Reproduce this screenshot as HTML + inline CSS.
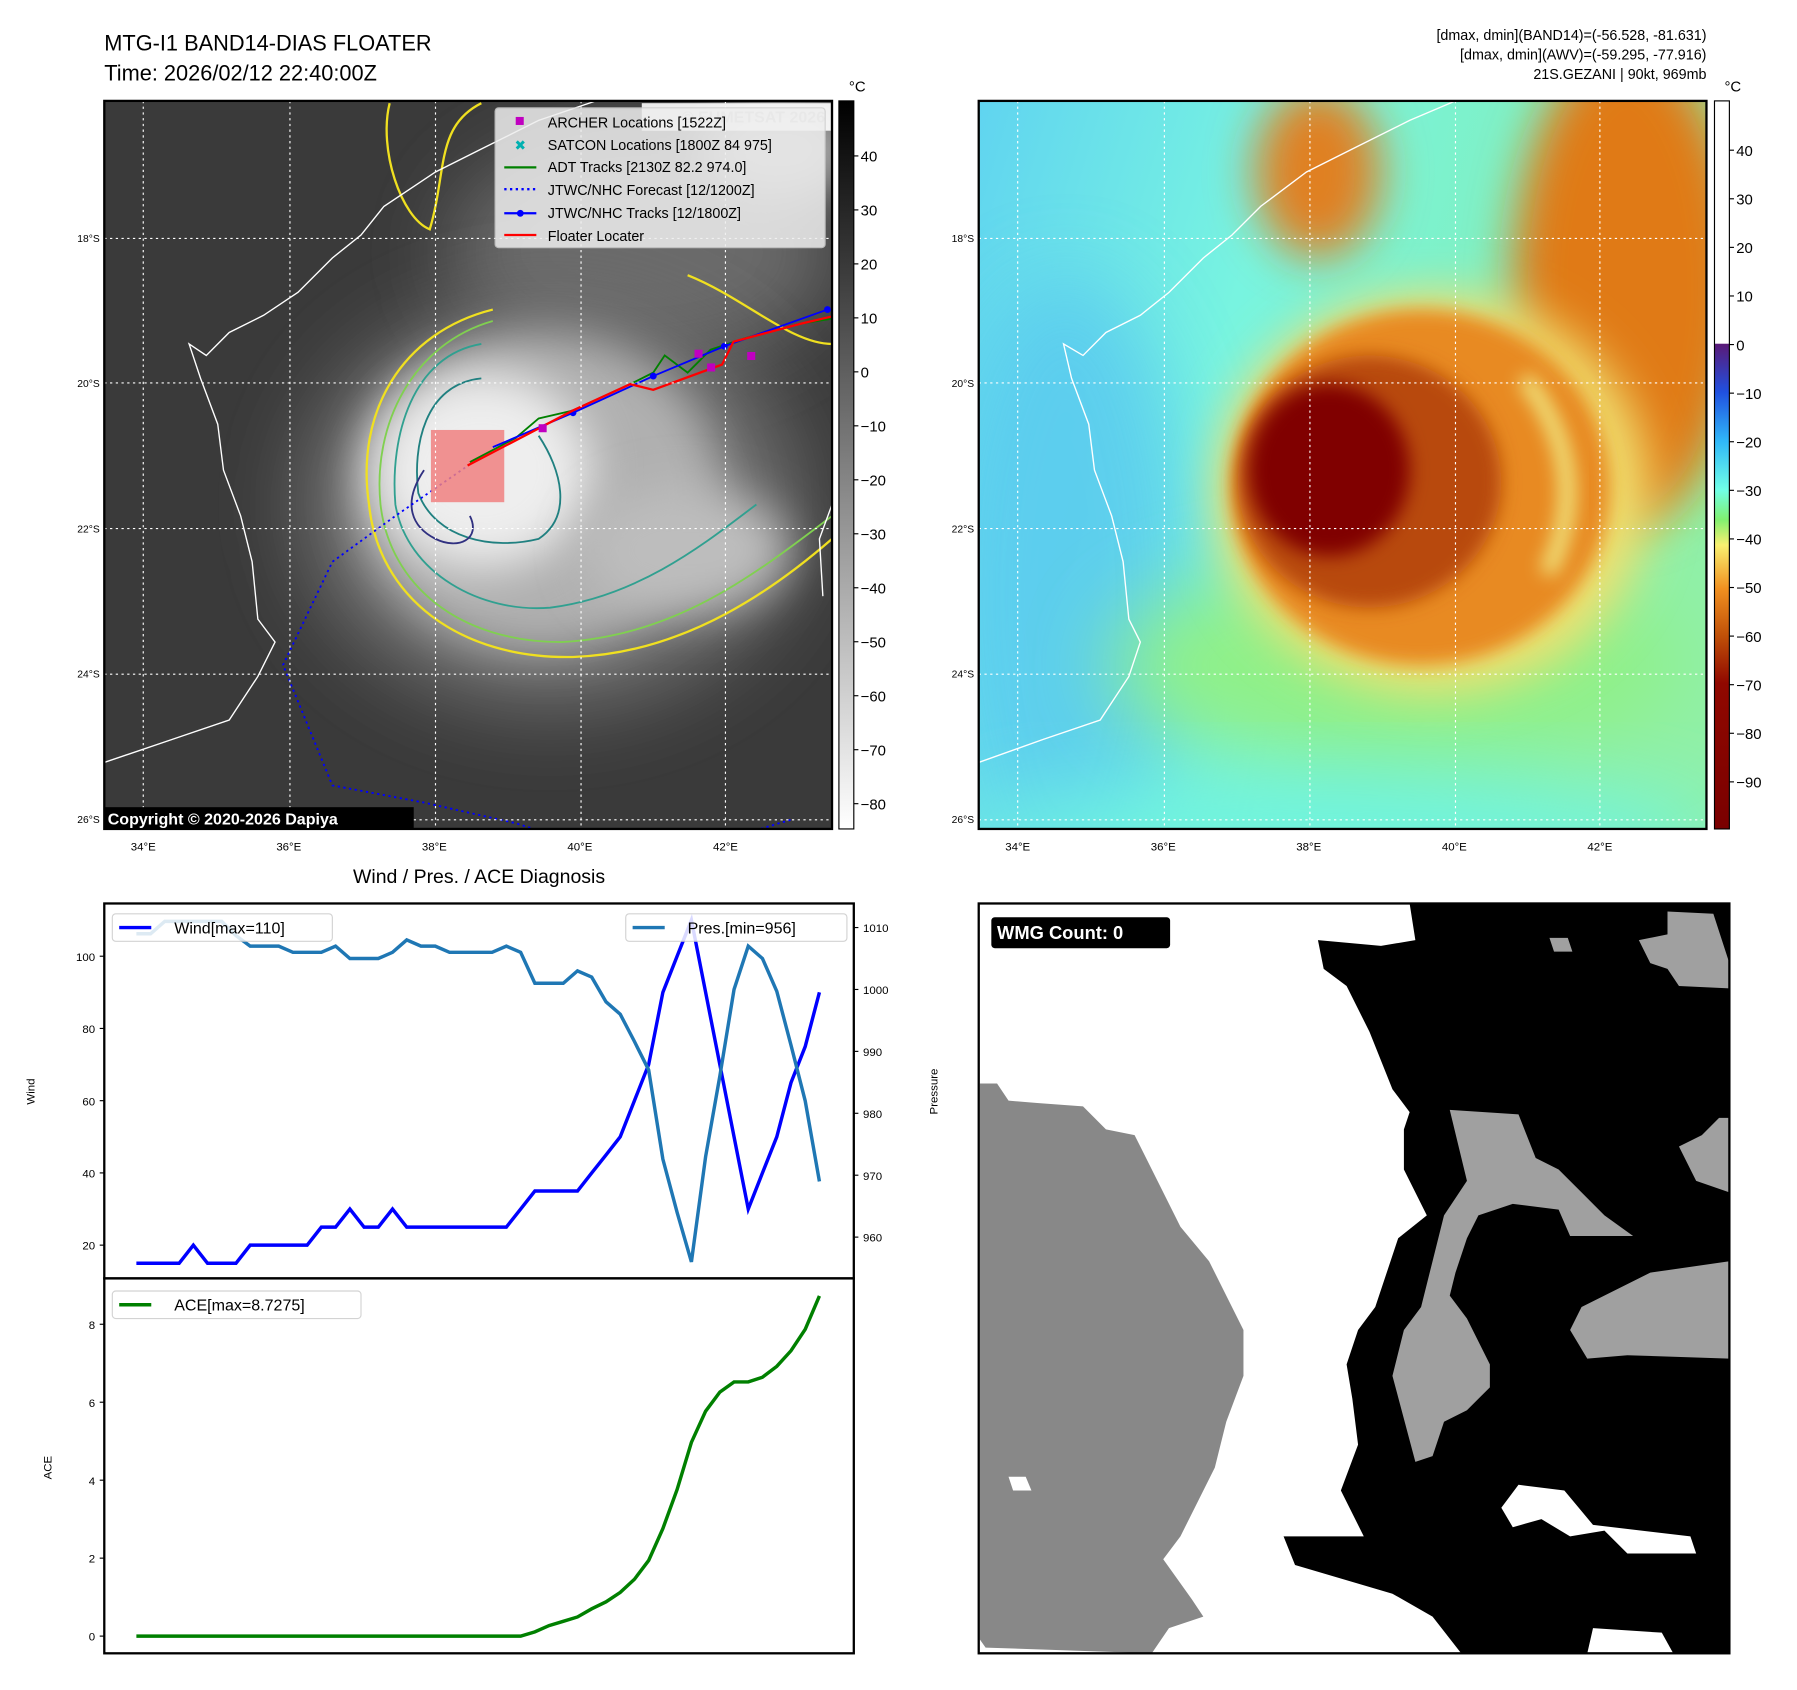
<!DOCTYPE html>
<html><head><meta charset="utf-8">
<style>
html,body{margin:0;padding:0;background:#fff;}
svg{display:block;font-family:"Liberation Sans","DejaVu Sans",sans-serif;}
</style></head>
<body>
<svg id="fig" width="1797" height="1690" viewBox="0 0 1568 1474" preserveAspectRatio="none" xmlns="http://www.w3.org/2000/svg">
<defs>
  <filter id="b8" x="-50%" y="-50%" width="200%" height="200%"><feGaussianBlur stdDeviation="8"/></filter>
  <filter id="b20" x="-50%" y="-50%" width="200%" height="200%"><feGaussianBlur stdDeviation="20"/></filter>
  <filter id="b35" x="-50%" y="-50%" width="200%" height="200%"><feGaussianBlur stdDeviation="35"/></filter>
  <clipPath id="clipL"><rect x="91" y="88" width="635" height="635"/></clipPath>
  <clipPath id="clipR"><rect x="854" y="88" width="635" height="635"/></clipPath>
  <linearGradient id="irbar" x1="0" y1="0" x2="0" y2="1"><stop offset="0" stop-color="#000"/><stop offset="1" stop-color="#fff"/></linearGradient>
  <linearGradient id="wvbar" x1="0" y1="0" x2="0" y2="1">
    <stop offset="0" stop-color="#fff"/><stop offset="0.333" stop-color="#fff"/>
    <stop offset="0.334" stop-color="#5a1a78"/><stop offset="0.40" stop-color="#2050e0"/>
    <stop offset="0.468" stop-color="#30b8f8"/><stop offset="0.534" stop-color="#70ffe8"/>
    <stop offset="0.575" stop-color="#80f070"/><stop offset="0.61" stop-color="#f8f070"/>
    <stop offset="0.67" stop-color="#f09020"/><stop offset="0.735" stop-color="#c05008"/>
    <stop offset="0.80" stop-color="#900800"/><stop offset="1" stop-color="#7a0000"/>
  </linearGradient>
  <linearGradient id="wvbg" x1="0" y1="0" x2="1" y2="0.3">
    <stop offset="0" stop-color="#60d4f0"/><stop offset="0.4" stop-color="#78f4e0"/><stop offset="0.75" stop-color="#80f0c0"/><stop offset="1" stop-color="#90f0a8"/>
  </linearGradient>
</defs>

<text x="91" y="44" font-size="19">MTG-I1 BAND14-DIAS FLOATER</text>
<text x="91" y="70" font-size="19">Time: 2026/02/12 22:40:00Z</text>
<text x="1489" y="35" font-size="12.5" text-anchor="end">[dmax, dmin](BAND14)=(-56.528, -81.631)</text>
<text x="1489" y="52" font-size="12.5" text-anchor="end">[dmax, dmin](AWV)=(-59.295, -77.916)</text>
<text x="1489" y="69" font-size="12.5" text-anchor="end">21S.GEZANI | 90kt, 969mb</text>

<g clip-path="url(#clipL)">
  <rect x="91" y="88" width="635" height="635" fill="#3a3a3a"/>
  <ellipse cx="560" cy="220" rx="170" ry="100" fill="#6a6a6a" filter="url(#b35)"/>
  <ellipse cx="480" cy="440" rx="220" ry="180" fill="#6e6e6e" filter="url(#b35)"/>
  <ellipse cx="470" cy="430" rx="160" ry="140" fill="#b0b0b0" filter="url(#b20)"/>
  <ellipse cx="420" cy="410" rx="95" ry="85" fill="#eeeeee" filter="url(#b20)"/>
  <ellipse cx="600" cy="480" rx="90" ry="55" fill="#bdbdbd" filter="url(#b20)"/>
  <ellipse cx="680" cy="130" rx="70" ry="45" fill="#aaa" filter="url(#b20)"/>
  <path d="M430,270 C350,290 310,360 322,440 C330,520 400,575 500,573 C600,570 680,510 726,470" fill="none" stroke="#f0e020" stroke-width="2"/>
  <path d="M600,240 C650,260 690,300 726,300" fill="none" stroke="#f0e020" stroke-width="2"/>
  <path d="M340,90 C330,130 350,190 375,200 C390,150 380,110 420,90" fill="none" stroke="#f0e020" stroke-width="2"/>
  <path d="M430,280 C360,300 325,370 332,440 C340,510 400,560 490,560 C590,555 660,500 726,450" fill="none" stroke="#80d050" stroke-width="1.6"/>
  <path d="M420,300 C360,310 340,380 345,440 C355,500 420,535 480,530 C560,520 620,470 660,440" fill="none" stroke="#30a090" stroke-width="1.6"/>
  <path d="M420,330 C370,335 360,390 365,430 C380,470 430,480 470,470 C500,450 490,410 470,380" fill="none" stroke="#208080" stroke-width="1.6"/>
  <path d="M370,410 C350,440 360,460 380,470 C400,480 420,470 410,450" fill="none" stroke="#303080" stroke-width="1.6"/>
  <path d="M91,665 L150,645 L200,628 L225,590 L240,560 L225,540 L220,490 L210,450 L195,410 L190,370 L175,330 L165,300 L180,310 L200,290 L230,275 L260,255 L290,225 L315,205 L335,180 L380,150 L420,130 L470,105 L520,88" fill="none" stroke="#fff" stroke-width="1.2"/>
  <path d="M726,440 L715,470 L718,520" fill="none" stroke="#fff" stroke-width="1.2"/>
  <path d="M410,405 L345,450 L290,490 L247,580 L290,685 L370,700 L450,718 L520,740" fill="none" stroke="#00f" stroke-width="1.6" stroke-dasharray="2,3"/>
  <path d="M640,730 L690,715" fill="none" stroke="#00f" stroke-width="1.6" stroke-dasharray="2,3"/>
  <rect x="376" y="375" width="64" height="63" fill="#f08080" opacity="0.85"/>
  <path d="M410,403 L450,382 L470,365 L500,358 L550,335 L570,325 L580,310 L600,325 L620,305 L650,295 L700,282 L726,278" fill="none" stroke="#008000" stroke-width="1.6"/>
  <path d="M430,390 L500,360 L570,328 L632,302 L722,270" fill="none" stroke="#00f" stroke-width="1.6"/>
  <g fill="#00f"><circle cx="500" cy="360" r="3"/><circle cx="570" cy="328" r="3"/><circle cx="632" cy="302" r="3"/><circle cx="722" cy="270" r="3"/></g>
  <path d="M408,406 L500,358 L550,335 L570,340 L630,318 L640,298 L700,282 L726,276" fill="none" stroke="#f00" stroke-width="2"/>
  <g fill="#c000c0"><rect x="606" y="305" width="7" height="7"/><rect x="617" y="317" width="7" height="7"/><rect x="652" y="307" width="7" height="7"/><rect x="470" y="370" width="7" height="7"/></g>
  <g stroke="#fff" stroke-width="1" stroke-dasharray="2,3">
    <line x1="125" y1="88" x2="125" y2="723"/><line x1="253" y1="88" x2="253" y2="723"/><line x1="380" y1="88" x2="380" y2="723"/><line x1="507" y1="88" x2="507" y2="723"/><line x1="633" y1="88" x2="633" y2="723"/>
    <line x1="91" y1="208" x2="726" y2="208"/><line x1="91" y1="334" x2="726" y2="334"/><line x1="91" y1="461" x2="726" y2="461"/><line x1="91" y1="588" x2="726" y2="588"/><line x1="91" y1="715" x2="726" y2="715"/>
  </g>
  <rect x="560" y="90" width="165" height="24" fill="#fff" opacity="0.9"/>
  <text x="720" y="107" font-size="14" font-weight="bold" fill="#ccc" text-anchor="end">© EUMETSAT 2026</text>
</g>
<rect x="91" y="88" width="635" height="635" fill="none" stroke="#000" stroke-width="2"/>
<g font-size="12.5">
  <rect x="432" y="94" width="288" height="122" fill="#eee" opacity="0.85" stroke="#ccc" rx="3"/>
  <rect x="450" y="102" width="7" height="7" fill="#c000c0"/><text x="478" y="111">ARCHER Locations [1522Z]</text>
  <text x="449" y="131" fill="#00b0b0" font-size="12">✖</text><text x="478" y="131">SATCON Locations [1800Z 84 975]</text>
  <line x1="440" y1="146" x2="468" y2="146" stroke="#008000" stroke-width="2"/><text x="478" y="150">ADT Tracks [2130Z 82.2 974.0]</text>
  <line x1="440" y1="165" x2="468" y2="165" stroke="#00f" stroke-width="2" stroke-dasharray="2,3"/><text x="478" y="170">JTWC/NHC Forecast [12/1200Z]</text>
  <line x1="440" y1="186" x2="468" y2="186" stroke="#00f" stroke-width="2"/><circle cx="454" cy="186" r="3" fill="#00f"/><text x="478" y="190">JTWC/NHC Tracks [12/1800Z]</text>
  <line x1="440" y1="205" x2="468" y2="205" stroke="#f00" stroke-width="2"/><text x="478" y="210">Floater Locater</text>
</g>
<rect x="91" y="704" width="270" height="19" fill="#000"/>
<text x="94" y="719" font-size="14" font-weight="bold" fill="#fff">Copyright © 2020-2026 Dapiya</text>
<g id="lonL" font-size="10" text-anchor="middle"></g>
<g id="latL" font-size="9" text-anchor="end"></g>
<rect x="732" y="88" width="13" height="635" fill="url(#irbar)" stroke="#000" stroke-width="1"/>
<text x="748" y="80" font-size="13" text-anchor="middle">°C</text>
<g id="cbL" font-size="13"></g>

<g clip-path="url(#clipR)">
  <rect x="854" y="88" width="635" height="635" fill="url(#wvbg)"/>
  <ellipse cx="930" cy="520" rx="110" ry="280" fill="#58c8f0" filter="url(#b35)" opacity="0.8"/>
  <ellipse cx="1220" cy="580" rx="250" ry="90" fill="#90f088" filter="url(#b35)"/>
  <ellipse cx="1170" cy="730" rx="330" ry="50" fill="#70f4e0" filter="url(#b35)"/>
  <ellipse cx="1150" cy="150" rx="55" ry="75" fill="#e08020" filter="url(#b20)"/>
  <ellipse cx="1420" cy="250" rx="100" ry="210" fill="#e07a18" filter="url(#b20)"/>
  <ellipse cx="1250" cy="430" rx="190" ry="175" fill="#f0e070" filter="url(#b20)"/>
  <ellipse cx="1240" cy="425" rx="165" ry="155" fill="#e88a20" filter="url(#b8)"/>
  <ellipse cx="1195" cy="420" rx="115" ry="110" fill="#b84808" filter="url(#b8)"/>
  <ellipse cx="1160" cy="410" rx="70" ry="75" fill="#800000" filter="url(#b8)"/>
  <path d="M1330,330 C1370,380 1380,440 1350,500" fill="none" stroke="#f0e880" stroke-width="14" filter="url(#b8)"/>
  <path d="M854,665 L910,645 L960,628 L985,590 L995,560 L985,540 L980,490 L970,450 L955,410 L950,370 L935,330 L928,300 L945,310 L965,290 L995,275 L1020,255 L1050,225 L1075,205 L1100,180 L1140,150 L1180,130 L1230,105 L1270,88" fill="none" stroke="#fff" stroke-width="1.2"/>
  <g stroke="#fff" stroke-width="1" stroke-dasharray="2,3">
    <line x1="888" y1="88" x2="888" y2="723"/><line x1="1016" y1="88" x2="1016" y2="723"/><line x1="1143" y1="88" x2="1143" y2="723"/><line x1="1270" y1="88" x2="1270" y2="723"/><line x1="1396" y1="88" x2="1396" y2="723"/>
    <line x1="854" y1="208" x2="1489" y2="208"/><line x1="854" y1="334" x2="1489" y2="334"/><line x1="854" y1="461" x2="1489" y2="461"/><line x1="854" y1="588" x2="1489" y2="588"/><line x1="854" y1="715" x2="1489" y2="715"/>
  </g>
</g>
<rect x="854" y="88" width="635" height="635" fill="none" stroke="#000" stroke-width="2"/>
<g id="lonR" font-size="10" text-anchor="middle"></g>
<g id="latR" font-size="9" text-anchor="end"></g>
<rect x="1496" y="88" width="13" height="635" fill="url(#wvbar)" stroke="#000" stroke-width="1"/>
<text x="1512" y="80" font-size="13" text-anchor="middle">°C</text>
<g id="cbR" font-size="13"></g>

<text x="418" y="770" font-size="17" text-anchor="middle">Wind / Pres. / ACE Diagnosis</text>
<g id="diag"></g>

<g>
  <rect x="854" y="788" width="655" height="654" fill="#fff"/>
  <polygon fill="#888" points="855,945 870,945 880,960 905,962 945,965 965,985 990,990 1010,1030 1030,1070 1055,1100 1085,1160 1085,1200 1070,1240 1060,1280 1045,1310 1030,1340 1015,1360 1040,1395 1050,1410 1020,1420 1005,1442 860,1437 855,1430"/>
  <polygon fill="#000" points="1230,788 1235,820 1205,825 1150,820 1155,845 1175,860 1195,900 1215,950 1230,970 1225,985 1225,1020 1245,1060 1220,1080 1210,1110 1200,1140 1185,1160 1175,1190 1180,1220 1185,1260 1170,1300 1190,1340 1120,1340 1130,1365 1215,1390 1250,1410 1275,1442 1509,1442 1509,788"/>
  <polygon fill="#a0a0a0" points="1455,795 1495,797 1509,840 1509,862 1465,860 1455,845 1440,840 1430,820 1455,815"/>
  <polygon fill="#a0a0a0" points="1265,968 1325,972 1340,1010 1360,1020 1380,1040 1400,1060 1425,1078 1370,1078 1360,1055 1320,1050 1290,1060 1280,1080 1270,1110 1265,1130 1280,1150 1300,1190 1300,1210 1280,1230 1260,1240 1250,1270 1235,1275 1215,1200 1225,1160 1240,1140 1250,1100 1260,1060 1280,1030"/>
  <polygon fill="#a0a0a0" points="1380,1140 1440,1110 1509,1100 1509,1185 1420,1182 1385,1185 1370,1160"/>
  <polygon fill="#a0a0a0" points="1500,975 1509,975 1509,1040 1480,1030 1465,1000 1485,990"/>
  <polygon fill="#a0a0a0" points="1352,818 1368,818 1372,830 1356,830"/>
  <polygon fill="#fff" points="1325,1295 1365,1300 1390,1330 1475,1340 1480,1355 1420,1355 1400,1335 1370,1340 1345,1325 1320,1332 1310,1315"/>
  <polygon fill="#fff" points="1390,1420 1450,1424 1460,1442 1385,1442"/>
  <polygon fill="#fff" points="880,1288 895,1288 900,1300 884,1300"/>
  <rect x="854" y="788" width="655" height="654" fill="none" stroke="#000" stroke-width="2"/>
  <rect x="865" y="800" width="156" height="27" rx="3" fill="#000"/>
  <text x="870" y="819" font-size="16" font-weight="bold" fill="#fff">WMG Count: 0</text>
</g>

<script>
const windVals = [15,15,15,15,20,15,15,15,20,20,20,20,20,25,25,30,25,25,30,25,25,25,25,25,25,25,25,30,35,35,35,35,40,45,50,60,70,90,100,110,90,70,50,30,40,50,65,75,90];
const presVals = [1009,1009,1011,1011,1011,1011,1011,1008.7,1007,1007,1007,1006,1006,1006,1007,1005,1005,1005,1006,1008,1007,1007,1006,1006,1006,1006,1007,1006,1001,1001,1001,1003,1002,998,996,991.6,987,972.6,964,956,973,986,1000,1007,1005,999.7,991,982,969];
const aceVals = [0,0,0,0,0,0,0,0,0,0,0,0,0,0,0,0,0,0,0,0,0,0,0,0,0,0,0,0,0.11,0.27,0.38,0.49,0.70,0.88,1.12,1.46,1.94,2.76,3.76,4.97,5.77,6.26,6.52,6.52,6.64,6.92,7.32,7.87,8.7275];
const windTicks = [20,40,60,80,100];
const presTicks = [960,970,980,990,1000,1010];
const aceTicks = [0,2,4,6,8];
const lonLabels = ["34°E","36°E","38°E","40°E","42°E"];
const latLabels = ["18°S","20°S","22°S","24°S","26°S"];
const irTicks = [40,30,20,10,0,-10,-20,-30,-40,-50,-60,-70,-80];
const wvTicks = [40,30,20,10,0,-10,-20,-30,-40,-50,-60,-70,-80,-90];

const NS = "http://www.w3.org/2000/svg";
function mk(tag, attrs, parent, txt){const e=document.createElementNS(NS,tag);for(const k in attrs)e.setAttribute(k,attrs[k]);if(txt!==undefined)e.textContent=txt;parent.appendChild(e);return e;}

function mapLabels(gLon,gLat,x0){
  const lonG=document.getElementById(gLon), latG=document.getElementById(gLat);
  lonLabels.forEach((l,i)=>{const t=mk("text",{x:x0+34+i*127,y:742},lonG,l);
    
    });
  latLabels.forEach((l,i)=>{const t=mk("text",{x:x0-4,y:211+i*126.7},latG,l);
    
    });
}
mapLabels("lonL","latL",91);
mapLabels("lonR","latR",854);

function cbar(id,ticks,x,yOf){
  const g=document.getElementById(id);
  ticks.forEach(v=>{const y=yOf(v);
    mk("line",{x1:x,y1:y,x2:x+4,y2:y,stroke:"#000"},g);
    const t=mk("text",{x:x+6,y:y+5},g,v<0?"\u2212"+Math.abs(v):String(v));
    
    });
}
cbar("cbL",irTicks,745,v=>136+(40-v)*4.708);
cbar("cbR",wvTicks,1509,v=>131+(40-v)*4.238);

const dg=document.getElementById("diag");
const X0=91,X1=745,Y0=788,YM=1115,Y1=1442;
const xOf=i=>119+i*(715-119)/(windVals.length-1);
const yWind=v=>1086-(v-20)*3.15;
const yPres=v=>1079-(v-960)*5.4;
const yAce=v=>1427-v*34;
mk("rect",{x:X0,y:Y0,width:X1-X0,height:YM-Y0,fill:"none",stroke:"#000","stroke-width":2},dg);
mk("rect",{x:X0,y:YM,width:X1-X0,height:Y1-YM,fill:"none",stroke:"#000","stroke-width":2},dg);
windTicks.forEach(v=>{const y=yWind(v);mk("line",{x1:X0-4,y1:y,x2:X0,y2:y,stroke:"#000"},dg);
  const t=mk("text",{x:X0-8,y:y+4,"font-size":10,"text-anchor":"end"},dg,String(v));
  
  });
presTicks.forEach(v=>{const y=yPres(v);mk("line",{x1:X1,y1:y,x2:X1+4,y2:y,stroke:"#000"},dg);
  const t=mk("text",{x:X1+8,y:y+4,"font-size":10},dg,String(v));
  
  });
aceTicks.forEach(v=>{const y=yAce(v);mk("line",{x1:X0-4,y1:y,x2:X0,y2:y,stroke:"#000"},dg);
  const t=mk("text",{x:X0-8,y:y+4,"font-size":10,"text-anchor":"end"},dg,String(v));
  
  });
const wl=mk("text",{x:30,y:952,"font-size":10,"text-anchor":"middle",transform:"rotate(-90 30 952)"},dg,"Wind");


const pl=mk("text",{x:818,y:952,"font-size":10,"text-anchor":"middle",transform:"rotate(-90 818 952)"},dg,"Pressure");


const al=mk("text",{x:45,y:1280,"font-size":10,"text-anchor":"middle",transform:"rotate(-90 45 1280)"},dg,"ACE");


function line(vals,yf,color,name){
  const d=vals.map((v,i)=>(i?"L":"M")+xOf(i).toFixed(1)+","+yf(v).toFixed(1)).join(" ");
  const p=mk("path",{d:d,fill:"none",stroke:color,"stroke-width":3,"stroke-linejoin":"miter"},dg);
  
  
}
line(windVals,yWind,"#0000ff","wind-line");
line(presVals,yPres,"#1f77b4","pressure-line");
line(aceVals,yAce,"#008000","ace-line");
function legend(x,y,w,color,label,name){
  const g=mk("g",{},dg);
  
  
  mk("rect",{x:x,y:y,width:w,height:24,fill:"#fff",opacity:0.85,stroke:"#ccc",rx:3},g);
  mk("line",{x1:x+6,y1:y+12,x2:x+34,y2:y+12,stroke:color,"stroke-width":3},g);
  mk("text",{x:x+54,y:y+17,"font-size":14},g,label);
}
legend(98,797,192,"#0000ff","Wind[max=110]","wind-legend");
legend(546,797,193,"#1f77b4","Pres.[min=956]","pres-legend");
legend(98,1126,217,"#008000","ACE[max=8.7275]","ace-legend");
</script>
</svg>
</body></html>
